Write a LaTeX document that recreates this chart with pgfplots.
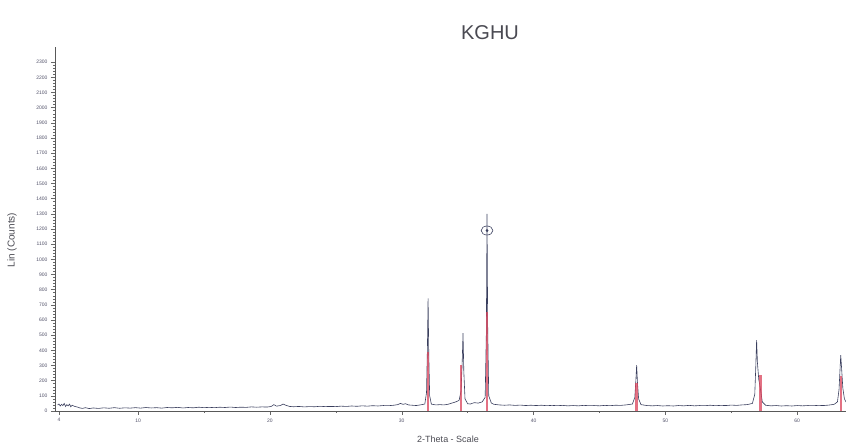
\documentclass[border=0pt]{standalone}
\usepackage{pgfplots}
\pgfplotsset{compat=1.18}
\usepackage{fontspec}
\setmainfont{Liberation Sans}
\definecolor{scan}{HTML}{3A3F5E}
\definecolor{stick}{HTML}{D9415A}
\definecolor{lbl}{HTML}{505068}
\definecolor{ttl}{HTML}{4A4A52}
\begin{document}
\begin{tikzpicture}[x=1pt,y=1pt]
\useasboundingbox (-55,-35) rectangle (791,411);
\begin{axis}[at={(0,0)}, anchor=south west, scale only axis,
  width=791pt, height=364pt,
  xmin=3.7, xmax=63.7, ymin=0, ymax=2400,
  axis x line=bottom, axis y line=left,
  axis line style={-, line width=0.6pt, color=black!65},
  xtick={4,10,20,30,40,50,60}, minor xtick={15,25,35,45,55},
  ytick={0,100,...,2300}, minor y tick num=4,
  tick style={black!60, line width=0.4pt},
  major tick length=4pt, minor tick length=2pt, tick align=outside,
  ticklabel style={font=\fontsize{5}{6}\selectfont, color=lbl},
  /pgf/number format/assume math mode=true,
  /pgf/number format/1000 sep={},
  clip=false]
\addplot[scan, line width=0.6pt] coordinates {
(3.9,40)(4.0,46)(4.1,33)(4.2,44)(4.3,36)(4.4,50)(4.5,30)(4.6,42)(4.7,34)(4.8,45)(4.9,28)(5.0,38)(5.2,30)(5.4,26)(5.6,20)(5.8,17)(6.0,22)(6.3,16)(6.6,20)(7.0,17)(7.4,21)(7.8,18)(8.2,22)(8.6,18)(9.0,21)(9.4,19)(9.8,22)(10.2,19)(10.6,23)(11.0,20)(11.4,22)(11.8,19)(12.2,23)(12.6,21)(13.0,24)(13.4,20)(13.8,23)(14.2,21)(14.6,25)(15.0,22)(15.4,24)(15.8,22)(16.2,25)(16.6,23)(17.0,26)(17.4,23)(17.8,25)(18.2,24)(18.6,27)(19.0,25)(19.4,27)(19.8,26)(20.1,30)(20.3,42)(20.5,32)(20.8,36)(21.0,46)(21.2,38)(21.5,30)(21.8,28)(22.2,30)(22.6,27)(23.0,29)(23.4,28)(23.8,31)(24.2,29)(24.6,30)(25.0,29)(25.4,32)(25.8,30)(26.2,33)(26.6,31)(27.0,34)(27.4,32)(27.8,35)(28.2,33)(28.6,36)(29.0,35)(29.4,38)(29.7,42)(29.9,50)(30.1,44)(30.3,48)(30.5,40)(30.8,38)(31.1,36)(31.4,40)(31.75,46)(31.88,120)(31.95,420)(32.0,743)(32.05,380)(32.12,100)(32.25,45)(32.6,40)(32.9,42)(33.2,40)(33.5,44)(33.8,52)(34.1,60)(34.35,70)(34.5,130)(34.59,330)(34.65,513)(34.71,260)(34.8,80)(35.0,48)(35.2,46)(35.5,55)(35.8,52)(36.1,60)(36.33,90)(36.42,520)(36.47,1300)(36.52,560)(36.6,100)(36.8,52)(37.0,44)(37.4,40)(37.8,38)(38.2,40)(38.6,37)(39.0,39)(39.4,36)(39.8,38)(40.2,36)(40.6,38)(41.0,35)(41.4,37)(41.8,35)(42.2,37)(42.6,34)(43.0,36)(43.4,34)(43.8,37)(44.2,35)(44.6,36)(45.0,34)(45.4,37)(45.8,35)(46.2,38)(46.6,37)(47.0,40)(47.5,46)(47.68,90)(47.76,200)(47.82,303)(47.88,190)(47.97,80)(48.15,42)(48.6,36)(49.0,34)(49.4,36)(49.8,33)(50.2,35)(50.6,33)(51.0,36)(51.4,34)(51.8,37)(52.2,34)(52.6,36)(53.0,35)(53.4,38)(53.8,35)(54.2,37)(54.6,36)(55.0,39)(55.4,37)(55.8,40)(56.2,42)(56.6,50)(56.78,110)(56.86,300)(56.92,467)(56.98,320)(57.08,210)(57.22,140)(57.35,60)(57.6,38)(58.0,34)(58.4,36)(58.8,33)(59.2,35)(59.6,33)(60.0,36)(60.4,34)(60.8,36)(61.2,35)(61.6,37)(62.0,36)(62.4,39)(62.8,44)(63.05,60)(63.17,140)(63.25,280)(63.3,368)(63.36,290)(63.46,150)(63.58,80)(63.7,60)
};
\addplot[stick, opacity=0.75, line width=2.4pt, ycomb] coordinates {
(32.0,388)(34.5,303)(36.47,650)(47.82,184)(57.2,237)(63.3,230)
};
\addplot[scan, only marks, mark=o, mark size=4.5pt, mark options={line width=0.6pt, xscale=1.3}] coordinates {(36.47,1190)};
\addplot[scan, only marks, mark=*, mark size=1.2pt] coordinates {(36.47,1190)};
\end{axis}
\node[font=\fontsize{20}{24}\selectfont, text=ttl] at (435,378) {KGHU};
\node[font=\fontsize{10}{12}\selectfont, text=ttl, rotate=90] at (-43,171) {Lin (Counts)};
\node[font=\fontsize{9}{11}\selectfont, text=ttl] at (393,-28) {2-Theta - Scale};
\end{tikzpicture}
\end{document}
